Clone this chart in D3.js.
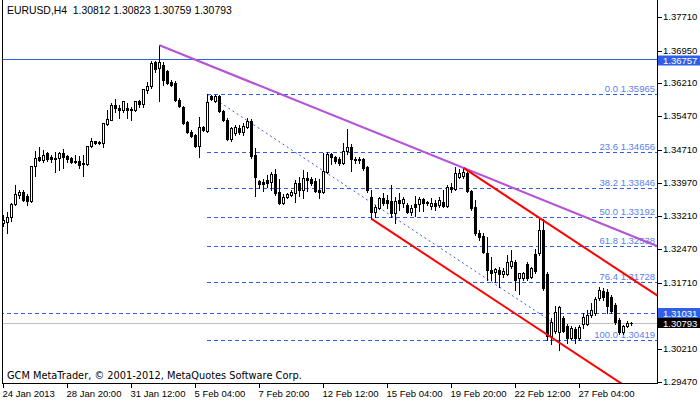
<!DOCTYPE html>
<html><head><meta charset="utf-8">
<script src="https://cdn.jsdelivr.net/npm/d3@7/dist/d3.min.js"></script>
<style>body{margin:0;background:#fff;}svg{display:block;}text{font-family:"Liberation Sans",Arial,sans-serif;}</style>
</head><body>
<svg id="chart" width="700" height="402"></svg>
<script>
const symbolTitle = "EURUSD,H4";
const opens = [1.33060,1.33083,1.33196,1.33490,1.33693,1.33761,1.33670,1.33557,1.34348,1.34552,1.34484,1.34642,1.34552,1.34507,1.34529,1.34642,1.34574,1.34529,1.34461,1.34461,1.34394,1.34394,1.34800,1.34913,1.34891,1.34868,1.35298,1.35388,1.35727,1.35659,1.35614,1.35659,1.35637,1.35614,1.35817,1.35750,1.36066,1.36156,1.36699,1.36563,1.36631,1.36495,1.36247,1.36224,1.35840,1.35682,1.35343,1.35117,1.35049,1.34800,1.35230,1.35139,1.35930,1.35817,1.35930,1.35591,1.35388,1.34959,1.35094,1.35207,1.35117,1.35230,1.35365,1.34597,1.34009,1.33987,1.34032,1.33987,1.34168,1.33761,1.33512,1.33648,1.33693,1.33738,1.33964,1.33806,1.34077,1.34055,1.34009,1.33806,1.33761,1.34213,1.34620,1.34552,1.34507,1.34416,1.34687,1.34778,1.34507,1.34507,1.34507,1.34326,1.33648,1.33309,1.33399,1.33625,1.33580,1.33557,1.33286,1.33580,1.33512,1.33467,1.33309,1.33490,1.33490,1.33603,1.33535,1.33444,1.33512,1.33467,1.33535,1.33444,1.33874,1.33829,1.34100,1.34122,1.34190,1.33783,1.33422,1.32834,1.32766,1.32382,1.31998,1.31953,1.31998,1.31908,1.31908,1.32088,1.32179,1.31817,1.31817,1.32134,1.31840,1.32360,1.32382,1.32902,1.31908,1.30506,1.30619,1.30597,1.30913,1.30732,1.30461,1.30664,1.30461,1.30778,1.30778,1.30981,1.31026,1.31365,1.31523,1.31501,1.31388,1.31207,1.30868,1.30597,1.30732,1.30812];
const highs = [1.33241,1.33309,1.33512,1.33919,1.33806,1.33806,1.33716,1.34348,1.34687,1.34778,1.34710,1.34665,1.34597,1.34665,1.34665,1.34733,1.34597,1.34552,1.34597,1.34574,1.34597,1.34800,1.34981,1.34920,1.34913,1.35320,1.35614,1.35772,1.35863,1.35727,1.35817,1.35772,1.35682,1.35817,1.35840,1.36089,1.36247,1.36721,1.36721,1.37072,1.36699,1.36518,1.36292,1.36269,1.35885,1.35704,1.35365,1.35162,1.35072,1.35456,1.35252,1.35965,1.35953,1.35950,1.35945,1.35614,1.35433,1.35230,1.35275,1.35275,1.35320,1.35433,1.35411,1.34755,1.34032,1.34055,1.34145,1.34213,1.34281,1.34055,1.33716,1.33738,1.33806,1.34032,1.34100,1.34258,1.34213,1.34100,1.34077,1.34055,1.34642,1.34665,1.34642,1.34574,1.34552,1.34868,1.35185,1.34846,1.34552,1.34552,1.34529,1.34348,1.33806,1.33467,1.33648,1.33738,1.33693,1.33919,1.33648,1.33738,1.33648,1.33512,1.33467,1.33670,1.33648,1.33625,1.33557,1.33625,1.33580,1.33648,1.33806,1.33919,1.33964,1.34326,1.34281,1.34303,1.34258,1.33806,1.33580,1.32902,1.32834,1.32744,1.32292,1.32043,1.32066,1.32043,1.32337,1.32450,1.32224,1.31930,1.31953,1.32179,1.32066,1.32473,1.33173,1.33151,1.31953,1.30913,1.31184,1.31184,1.30958,1.30778,1.30732,1.30710,1.30755,1.31026,1.31094,1.31252,1.31388,1.31614,1.31591,1.31568,1.31433,1.31252,1.30913,1.30755,1.30845,1.30823];
const lows = [1.32992,1.32834,1.33105,1.33467,1.33625,1.33557,1.33467,1.33535,1.34122,1.34461,1.34439,1.34461,1.34439,1.34213,1.34258,1.34303,1.34439,1.34416,1.34416,1.34303,1.34122,1.34371,1.34778,1.34846,1.34846,1.34778,1.35275,1.35388,1.35569,1.35433,1.35569,1.35433,1.35388,1.35591,1.35682,1.35682,1.35998,1.36111,1.36473,1.35817,1.36179,1.36202,1.36156,1.35817,1.35682,1.35298,1.35094,1.35004,1.34778,1.34552,1.35139,1.35117,1.35840,1.35795,1.35569,1.35365,1.34936,1.34913,1.35049,1.35072,1.35049,1.35207,1.34529,1.33670,1.33851,1.33783,1.33874,1.33806,1.33693,1.33490,1.33490,1.33625,1.33670,1.33535,1.33670,1.33625,1.33783,1.33919,1.33761,1.33625,1.33738,1.34190,1.34394,1.34416,1.34371,1.34394,1.34620,1.34235,1.34416,1.34416,1.34258,1.33761,1.33151,1.33196,1.33377,1.33467,1.33399,1.33196,1.33060,1.33354,1.33422,1.33286,1.33241,1.33219,1.33331,1.33331,1.33467,1.33377,1.33354,1.33422,1.33422,1.33422,1.33761,1.33806,1.34077,1.34077,1.33761,1.33354,1.32789,1.32676,1.32382,1.31772,1.31772,1.31727,1.31614,1.31840,1.31885,1.32043,1.31546,1.31456,1.31772,1.31772,1.31817,1.31930,1.32337,1.31546,1.30416,1.30326,1.30574,1.30190,1.30597,1.30348,1.30439,1.30348,1.30419,1.30687,1.30755,1.30936,1.30981,1.31320,1.31320,1.31026,1.31026,1.30778,1.30552,1.30552,1.30710,1.30759];
const closes = [1.33128,1.33196,1.33490,1.33716,1.33761,1.33580,1.33557,1.34348,1.34529,1.34484,1.34597,1.34507,1.34507,1.34529,1.34642,1.34552,1.34507,1.34439,1.34439,1.34371,1.34416,1.34800,1.34913,1.34868,1.34868,1.35320,1.35411,1.35727,1.35659,1.35614,1.35817,1.35614,1.35614,1.35817,1.35750,1.36089,1.36156,1.36676,1.36541,1.36699,1.36292,1.36224,1.36179,1.35840,1.35704,1.35320,1.35117,1.35026,1.34800,1.35230,1.35162,1.35795,1.35863,1.35930,1.35591,1.35388,1.34959,1.35207,1.35230,1.35117,1.35252,1.35365,1.34574,1.34100,1.33942,1.33942,1.33964,1.34168,1.33738,1.33512,1.33648,1.33716,1.33761,1.33964,1.33806,1.34077,1.34032,1.33964,1.33783,1.33761,1.34235,1.34620,1.34552,1.34461,1.34416,1.34687,1.34778,1.34507,1.34484,1.34484,1.34303,1.33806,1.33309,1.33422,1.33625,1.33512,1.33512,1.33286,1.33557,1.33512,1.33603,1.33309,1.33399,1.33422,1.33603,1.33512,1.33512,1.33512,1.33444,1.33580,1.33444,1.33874,1.33829,1.34190,1.34190,1.34213,1.33783,1.33399,1.32834,1.32744,1.32405,1.31998,1.31930,1.32021,1.31908,1.31975,1.32179,1.32201,1.31772,1.31930,1.31930,1.31817,1.32043,1.31975,1.32902,1.31591,1.30506,1.30823,1.31049,1.31162,1.30619,1.30461,1.30687,1.30461,1.30710,1.30936,1.30981,1.31094,1.31343,1.31546,1.31388,1.31184,1.31071,1.30823,1.30597,1.30732,1.30800,1.30793];
const timeLabels = ["24 Jan 2013","28 Jan 20:00","31 Jan 12:00","5 Feb 04:00","7 Feb 20:00","12 Feb 12:00","15 Feb 04:00","19 Feb 20:00","22 Feb 12:00","27 Feb 04:00"];
const barsPerTimeLabel = 16;
const priceTicks = [1.37710,1.36950,1.36210,1.35470,1.34710,1.33970,1.33210,1.32470,1.31710,1.30210,1.29470];
const fibLevels = [0.0,23.6,38.2,50.0,61.8,76.4,100.0];
const fibPrices = [1.35965,1.34656,1.33846,1.33192,1.32538,1.31728,1.30419];
const fibStartBar = 51, fibEndBar = 144;
const hLinePrice = 1.36757;
const levelPrice = 1.31031;
const bidPrice = 1.30793;
const purpleAnchors = [39,115];   // trendline from high to high
const channelAnchors = [115,134]; // upper channel highs
const channelLowBar = 92;         // lower channel through this low
const copyright = "GCM MetaTrader, \u00a9 2001-2012, MetaQuotes Software Corp.";

const W=700,H=402, left=2.5, right=657.5, bottom=383.5;
const svg=d3.select("#chart");
const n=opens.length;
const x=d3.scaleLinear().domain([0,n-1]).range([3,3+4*(n-1)]);
const y=d3.scaleLinear().domain([1.37710,1.29470]).range([17,382]);
const BLUE="#2f5fe6", FIBTXT="#5b80ea";

svg.append("rect").attr("width",W).attr("height",H).attr("fill","#fff");
svg.append("defs").append("clipPath").attr("id","plot").append("rect")
  .attr("x",3).attr("y",0).attr("width",right-3).attr("height",bottom);
const plot=svg.append("g").attr("clip-path","url(#plot)");

// header & copyright
svg.append("text").attr("x",7).attr("y",14).attr("font-size",10.4).attr("fill","#000")
  .style("white-space","pre")
  .text(symbolTitle+"  "+[opens[n-1],highs[n-1],lows[n-1],closes[n-1]].map(v=>v.toFixed(5)).join(" "));
svg.append("text").attr("x",7).attr("y",379).attr("font-size",9.8).attr("fill","#000")
  .style("font-family","'DejaVu Sans',sans-serif").text(copyright);

const ry=v=>Math.round(y(v))+0.5;
// horizontal lines
const hl=plot.append("g").attr("shape-rendering","crispEdges");
hl.append("line").attr("x1",0).attr("x2",right).attr("y1",ry(bidPrice)).attr("y2",ry(bidPrice)).attr("stroke","#c0c0c0");
hl.append("line").attr("x1",0).attr("x2",right).attr("y1",ry(hLinePrice)).attr("y2",ry(hLinePrice)).attr("stroke",BLUE);
hl.append("line").attr("x1",0).attr("x2",right).attr("y1",ry(levelPrice)).attr("y2",ry(levelPrice)).attr("stroke",BLUE).attr("stroke-dasharray","4,3");

// fibonacci
fibPrices.forEach((p,k)=>{
  hl.append("line").attr("x1",x(fibStartBar)).attr("x2",right).attr("y1",ry(p)).attr("y2",ry(p))
    .attr("stroke",BLUE).attr("stroke-dasharray","4,3");
  plot.append("text").attr("x",655).attr("y",Math.round(y(p))-2).attr("text-anchor","end")
    .attr("font-size",9.5).attr("fill",FIBTXT).text(fibLevels[k].toFixed(1)+" "+p.toFixed(5));
});
plot.append("line").attr("x1",x(fibStartBar)+0.5).attr("y1",y(fibPrices[0]))
  .attr("x2",x(fibEndBar)+0.5).attr("y2",y(fibPrices[fibPrices.length-1]))
  .attr("stroke",BLUE).attr("stroke-dasharray","2,3");

// candles
const cg=plot.append("g").attr("shape-rendering","crispEdges");
for(let i=0;i<n;i++){
  const cx=x(i);
  const yh=Math.round(y(highs[i])), yl=Math.round(y(lows[i]));
  const yo=Math.round(y(opens[i])), yc=Math.round(y(closes[i]));
  cg.append("rect").attr("x",cx).attr("y",yh).attr("width",1).attr("height",Math.max(1,yl-yh+1)).attr("fill","#000");
  const top=Math.min(yo,yc), bot=Math.max(yo,yc);
  cg.append("rect").attr("x",cx-1).attr("y",top).attr("width",3).attr("height",bot-top+1).attr("fill","#000");
  if(closes[i]>opens[i] && bot-top>=2){
    cg.append("rect").attr("x",cx).attr("y",top+1).attr("width",1).attr("height",bot-top-1).attr("fill","#fff");
  }
}

// trendlines
function lineAt(b1,p1,b2,p2,xEnd){
  const slope=(y(p2)-y(p1))/(x(b2)-x(b1));
  return [x(b1)+0.5,y(p1),xEnd,y(p1)+slope*(xEnd-x(b1)-0.5)];
}
const pl=lineAt(purpleAnchors[0],highs[purpleAnchors[0]],purpleAnchors[1],highs[purpleAnchors[1]],right);
plot.append("line").attr("x1",pl[0]).attr("y1",pl[1]).attr("x2",pl[2]).attr("y2",pl[3])
  .attr("stroke","#b554d6").attr("stroke-width",2.2);
const ru=lineAt(channelAnchors[0],highs[channelAnchors[0]],channelAnchors[1],highs[channelAnchors[1]],right);
plot.append("line").attr("x1",ru[0]).attr("y1",ru[1]).attr("x2",ru[2]).attr("y2",ru[3])
  .attr("stroke","#ff0000").attr("stroke-width",2);
const slopeR=(ru[3]-ru[1])/(ru[2]-ru[0]);
const lx0=x(channelLowBar)+0.5, ly0=y(lows[channelLowBar]);
plot.append("line").attr("x1",lx0).attr("y1",ly0).attr("x2",right).attr("y2",ly0+slopeR*(right-lx0))
  .attr("stroke","#ff0000").attr("stroke-width",2);

// frame
const fr=svg.append("g").attr("shape-rendering","crispEdges").attr("stroke","#000");
fr.append("line").attr("x1",left).attr("x2",left).attr("y1",0).attr("y2",bottom);
fr.append("line").attr("x1",right).attr("x2",right).attr("y1",0).attr("y2",bottom);
fr.append("line").attr("x1",left).attr("x2",right).attr("y1",bottom).attr("y2",bottom);

// price axis
priceTicks.forEach(p=>{
  const yy=ry(p);
  fr.append("line").attr("x1",right).attr("x2",right+4).attr("y1",yy).attr("y2",yy);
  svg.append("text").attr("x",663).attr("y",yy+2.5).attr("font-size",9.5).attr("fill","#000").text(p.toFixed(5));
});
function tag(p,fill,dy){
  const yy=Math.round(y(p))+dy;
  svg.append("rect").attr("x",658).attr("y",yy-4).attr("width",42).attr("height",10).attr("fill",fill);
  svg.append("text").attr("x",663).attr("y",yy+4.5).attr("font-size",9.5).attr("fill","#fff").text(p.toFixed(5));
}
tag(hLinePrice,BLUE,0.5);
tag(levelPrice,BLUE,-1);
tag(bidPrice,"#000",-1);

// time axis
timeLabels.forEach((lab,k)=>{
  const xx=Math.round(x(k*barsPerTimeLabel))+0.5;
  fr.append("line").attr("x1",xx).attr("x2",xx).attr("y1",bottom).attr("y2",bottom+4);
  svg.append("text").attr("x",xx-1).attr("y",397).attr("font-size",9.5).attr("fill","#000").text(lab);
});
</script>
</body></html>
